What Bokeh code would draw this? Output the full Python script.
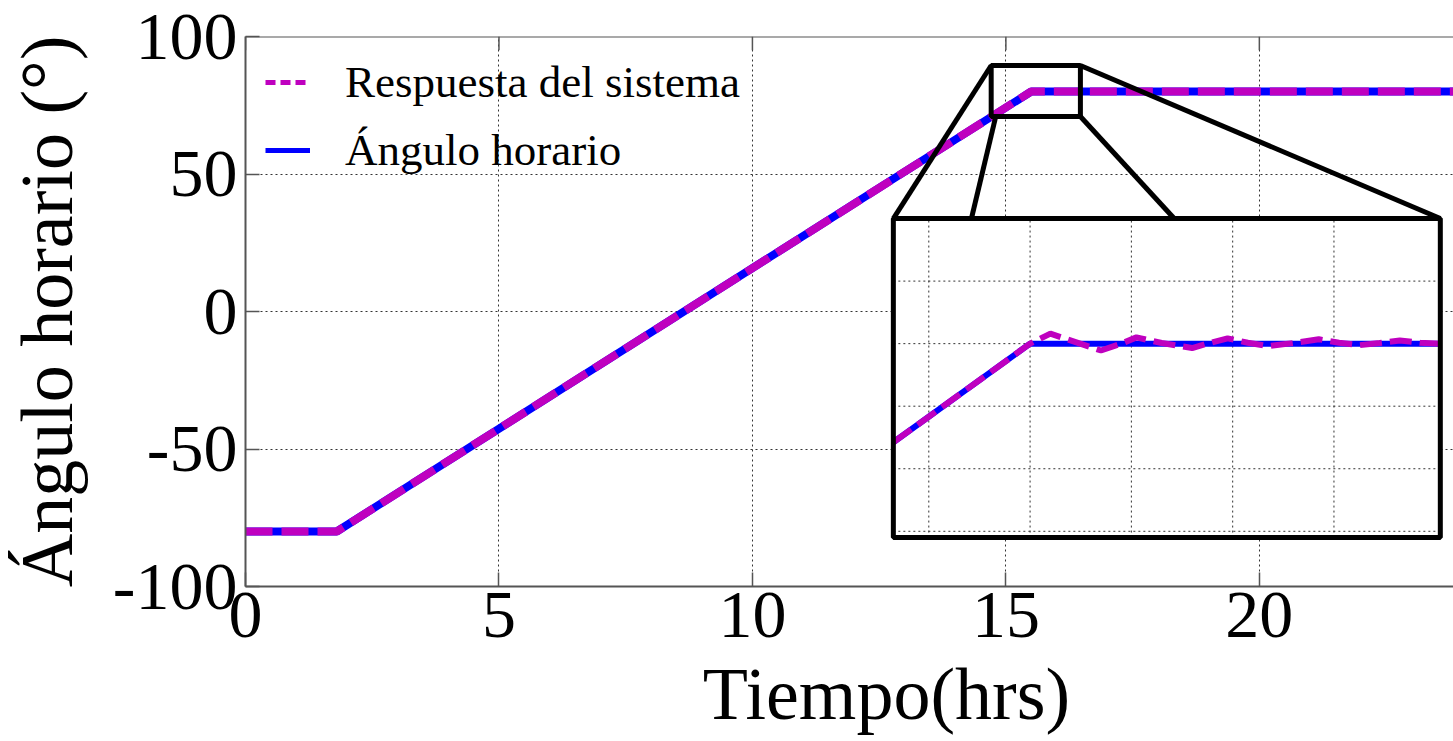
import numpy as np
from bokeh.plotting import figure
from bokeh.models import Range1d, FixedTicker, Legend, LegendItem, Span
from bokeh.embed import file_html
from bokeh.resources import INLINE

# ---------------- data ----------------
angle_time = [0.0, 1.8, 15.5, 24.0]          # Ángulo horario (reference)
angle_deg = [-80.0, -80.0, 80.0, 80.0]
response_time = [0.0, 1.8, 15.5, 24.0]       # Respuesta del sistema
response_deg = [-80.0, -80.0, 80.0, 80.0]
# detail of the response seen in the zoomed inset (small oscillation after the corner)
zoom_resp_time = [15.50, 15.54, 15.59, 15.64, 15.68, 15.71, 15.76, 15.82, 15.85, 15.89,
                  15.93, 15.97, 16.02, 16.07, 16.11, 16.15, 16.19, 16.23, 16.27, 16.31]
zoom_resp_deg = [80.00, 80.32, 80.05, 79.78, 80.00, 80.20, 80.02, 79.86, 80.00, 80.17,
                 80.03, 79.92, 80.02, 80.14, 80.03, 79.95, 80.02, 80.10, 80.03, 80.00]

x_ticks = [0, 5, 10, 15, 20]
y_ticks = [-100, -50, 0, 50, 100]
y_tick_labels = ["-100", "-50", "0", "50", "100"]
inset_x_grid = [15.3, 15.5, 15.7, 15.9, 16.1]
inset_y_grid = [74, 76, 78, 80, 82]
legend_labels = ["Respuesta del sistema", "Ángulo horario"]
x_label = "Tiempo(hrs)"
y_label = "Ángulo horario (°)"

# ---------------- layout / styling ----------------
X_END = 23.83
X_TITLE_PAD = "\u00a0" * 4        # shifts the centred x title right, as in the reference
INSET_WIN_X = (15.23, 16.31)
INSET_WIN_Y = (73.8, 84.0)
INSET_BOX_X = (12.78, 23.57)      # inset box position in main-axes data units
INSET_BOX_Y = (-82.2, 33.8)
ZOOM_RECT_X = (14.71, 16.47)
ZOOM_RECT_Y = (70.9, 89.45)
CONNECTORS = [((14.71, 89.45), (12.78, 33.8)),
              ((14.80, 70.9), (14.32, 33.8)),
              ((16.47, 70.9), (18.32, 33.8)),
              ((16.47, 89.45), (23.57, 33.8))]
TOP_TICK_LEN = 5.0                # inward tick length at the top, in y data units
BLUE = "#0000ff"
MAGENTA = "#bf00bf"
FRAME = "#555555"
FONT = "Liberation Serif"

p = figure(frame_width=1208, frame_height=550,
           x_range=Range1d(0, X_END), y_range=Range1d(-100, 100),
           output_backend="svg", toolbar_location=None,
           min_border_left=245, min_border_right=0,
           min_border_top=36, min_border_bottom=155)
p.outline_line_color = None
p.background_fill_color = "white"
p.border_fill_color = "white"

# grid
p.xgrid.ticker = FixedTicker(ticks=x_ticks)
p.ygrid.ticker = FixedTicker(ticks=y_ticks)
for g in (p.xgrid, p.ygrid):
    g.grid_line_color = "#333333"
    g.grid_line_width = 1
    g.grid_line_dash = "2 3"

# axes
p.xaxis.ticker = FixedTicker(ticks=x_ticks)
p.yaxis.ticker = FixedTicker(ticks=y_ticks)
p.yaxis.major_label_overrides = dict(zip(y_ticks, y_tick_labels))
for ax in (p.xaxis, p.yaxis):
    ax.axis_line_color = FRAME
    ax.axis_line_width = 2
    ax.major_tick_in = 14
    ax.major_tick_out = 0
    ax.major_tick_line_color = FRAME
    ax.major_tick_line_width = 1.5
    ax.minor_tick_line_color = None
    ax.major_label_text_font = FONT
    ax.major_label_text_font_size = "68px"
    ax.major_label_text_color = "black"
    ax.axis_label_text_font = FONT
    ax.axis_label_text_font_size = "74px"
    ax.axis_label_text_font_style = "normal"
    ax.axis_label_text_color = "black"
p.xaxis.axis_label = X_TITLE_PAD + x_label
p.yaxis.axis_label = y_label
p.xaxis.major_label_standoff = 6
p.xaxis.axis_label_standoff = 13
p.yaxis.major_label_standoff = 8
p.yaxis.axis_label_standoff = 22

# top frame line with inward ticks
p.add_layout(Span(location=100, dimension="width", line_color=FRAME, line_width=2))
p.segment(x0=x_ticks, x1=x_ticks, y0=[100] * len(x_ticks),
          y1=[100 - TOP_TICK_LEN] * len(x_ticks), line_color=FRAME, line_width=1.5)

# legend proxies (hidden underneath the wider main curves)
leg_resp = p.line(response_time, response_deg, line_color=MAGENTA, line_width=5, line_dash="10 5")
leg_ang = p.line(angle_time, angle_deg, line_color=BLUE, line_width=5)

# main curves
p.line(angle_time, angle_deg, line_color=BLUE, line_width=8)
p.line(response_time, response_deg, line_color=MAGENTA, line_width=8, line_dash="27 9")

legend = Legend(items=[LegendItem(label=legend_labels[0], renderers=[leg_resp]),
                       LegendItem(label=legend_labels[1], renderers=[leg_ang])],
                location="top_left", border_line_color=None, background_fill_alpha=0,
                label_text_font=FONT, label_text_font_size="45px", label_text_color="black",
                glyph_width=45, glyph_height=40, label_standoff=35,
                spacing=16, margin=20, padding=10)
p.add_layout(legend)

# ---------------- inset (zoom) drawn with extra ranges ----------------
fx0 = INSET_BOX_X[0] / X_END
fx1 = INSET_BOX_X[1] / X_END
spx = (INSET_WIN_X[1] - INSET_WIN_X[0]) / (fx1 - fx0)
sx = INSET_WIN_X[0] - fx0 * spx
fy0 = (INSET_BOX_Y[0] + 100) / 200
fy1 = (INSET_BOX_Y[1] + 100) / 200
spy = (INSET_WIN_Y[1] - INSET_WIN_Y[0]) / (fy1 - fy0)
sy = INSET_WIN_Y[0] - fy0 * spy
p.extra_x_ranges = {"inset": Range1d(sx, sx + spx)}
p.extra_y_ranges = {"inset": Range1d(sy, sy + spy)}

# inset background
p.quad(left=[INSET_BOX_X[0]], right=[INSET_BOX_X[1]], bottom=[INSET_BOX_Y[0]], top=[INSET_BOX_Y[1]],
       fill_color="white", line_color=None)

# inset grid
p.segment(x0=inset_x_grid, x1=inset_x_grid,
          y0=[INSET_WIN_Y[0]] * len(inset_x_grid), y1=[INSET_WIN_Y[1]] * len(inset_x_grid),
          line_color="#333333", line_width=1, line_dash="2 3",
          x_range_name="inset", y_range_name="inset")
p.segment(x0=[INSET_WIN_X[0]] * len(inset_y_grid), x1=[INSET_WIN_X[1]] * len(inset_y_grid),
          y0=inset_y_grid, y1=inset_y_grid,
          line_color="#333333", line_width=1, line_dash="2 3",
          x_range_name="inset", y_range_name="inset")

# clip the curves to the inset window
def clip(t, v, lo, hi):
    t = np.asarray(t, float)
    v = np.asarray(v, float)
    inner = t[(t > lo) & (t < hi)]
    tt = np.concatenate([[lo], inner, [hi]])
    return tt, np.interp(tt, t, v)

ang_t, ang_v = clip(angle_time, angle_deg, *INSET_WIN_X)
resp_start_v = float(np.interp(INSET_WIN_X[0], response_time, response_deg))
resp_t = [INSET_WIN_X[0]] + zoom_resp_time
resp_v = [resp_start_v] + zoom_resp_deg

p.line(ang_t, ang_v, line_color=BLUE, line_width=6,
       x_range_name="inset", y_range_name="inset")
p.line(resp_t, resp_v, line_color=MAGENTA, line_width=6, line_dash="22 8",
       x_range_name="inset", y_range_name="inset")

# inset border
p.quad(left=[INSET_BOX_X[0]], right=[INSET_BOX_X[1]], bottom=[INSET_BOX_Y[0]], top=[INSET_BOX_Y[1]],
       fill_color=None, line_color="black", line_width=5)

# zoom rectangle + connectors
p.quad(left=[ZOOM_RECT_X[0]], right=[ZOOM_RECT_X[1]], bottom=[ZOOM_RECT_Y[0]], top=[ZOOM_RECT_Y[1]],
       fill_color=None, line_color="black", line_width=5)
p.segment(x0=[c[0][0] for c in CONNECTORS], y0=[c[0][1] for c in CONNECTORS],
          x1=[c[1][0] for c in CONNECTORS], y1=[c[1][1] for c in CONNECTORS],
          line_color="black", line_width=5)

open("out.html", "w").write(file_html(p, INLINE))
